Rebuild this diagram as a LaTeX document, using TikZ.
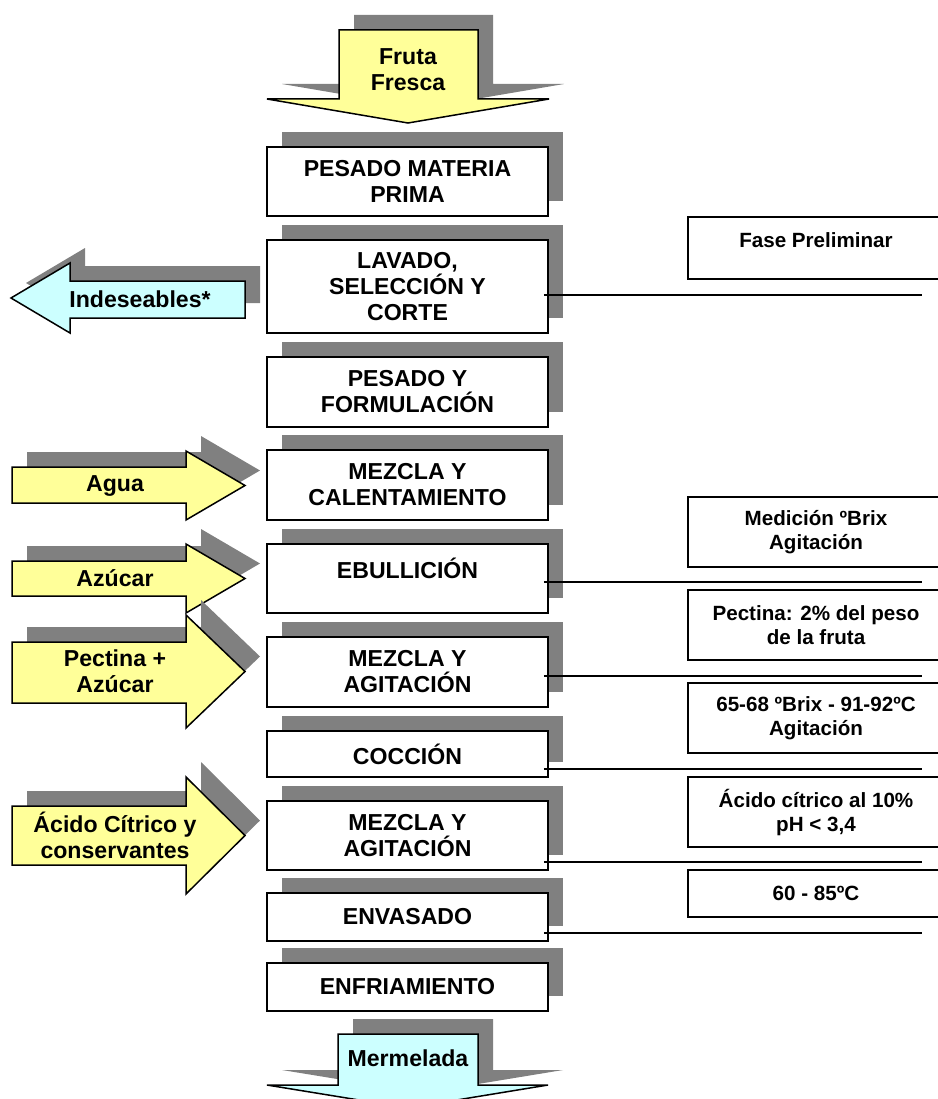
\documentclass[tikz,border=0pt]{standalone}
\usepackage{fontspec}
\setmainfont{Liberation Sans}
\definecolor{shadowgray}{HTML}{808080}
\definecolor{inyellow}{HTML}{FFFF99}
\definecolor{outcyan}{HTML}{CCFFFF}
\newcommand\stepfont{\fontsize{23.1}{26}\selectfont\bfseries}
\newcommand\notefont{\fontsize{20.6}{24}\selectfont\bfseries}
\tikzset{
  stepbox/.style={draw=black, line width=1.5pt, fill=white, align=center,
    inner sep=0pt, minimum width=281pt, font=\stepfont},
  notebox/.style={draw=black, line width=1.5pt, fill=white, align=center,
    inner sep=0pt, minimum width=256pt, font=\notefont},
  flowtext/.style={align=center, inner sep=0pt, font=\stepfont},
  arrowline/.style={draw=black, line width=1.5pt, line join=miter},
  tieline/.style={draw=black, line width=1.2pt},
}
% process step with its offset shadow: name, top, bottom, text
\newcommand\procstep[4]{%
  \fill[shadowgray] (282,#2-15) rectangle (563,#3-15);
  \pgfmathsetmacro\stepheight{#3-#2}%
  \node[stepbox, minimum height=\stepheight pt] (#1) at (407.5,{(#2+#3)/2}) {#4};
}
% note box at the right: name, top, bottom, text
\newcommand\notestep[4]{%
  \pgfmathsetmacro\noteheight{#3-#2}%
  \node[notebox, minimum height=\noteheight pt] (#1) at (816,{(#2+#3)/2}) {#4};
}
% input arrow pointing right: name, body top, body bottom, head top, head bottom, text
\newcommand\inarrow[6]{%
  \pgfmathsetmacro\tipy{(#4+#5)/2}%
  \fill[shadowgray, shift={(15,-15)}] (12,#2) -- (186,#2) -- (186,#4) -- (245,\tipy)
     -- (186,#5) -- (186,#3) -- (12,#3) -- cycle;
  \path[arrowline, fill=inyellow] (12,#2) -- (186,#2) -- (186,#4) -- (245,\tipy)
     -- (186,#5) -- (186,#3) -- (12,#3) -- cycle;
  \node[flowtext] (#1) at (115,\tipy) {#6};
}
\begin{document}
\begin{tikzpicture}[x=1pt, y=-1pt]
\useasboundingbox (0,0) rectangle (937,1099);

% raw material entering
\fill[shadowgray, shift={(15,-15)}] (339,30) -- (478,30) -- (478,99) -- (549,99)
  -- (408,123) -- (267,99) -- (339,99) -- cycle;
\path[arrowline, fill=inyellow] (339,30) -- (478,30) -- (478,99) -- (549,99)
  -- (408,123) -- (267,99) -- (339,99) -- cycle;
\node[flowtext] (fruta) at (408,70) {Fruta\\Fresca};

% process steps
\procstep{pesado}{147}{216}{PESADO MATERIA\\PRIMA}
\procstep{lavado}{240}{333}{LAVADO,\\SELECCIÓN Y\\CORTE}
\procstep{formula}{357}{427}{PESADO Y\\FORMULACIÓN}
\procstep{mezcla}{450}{520}{MEZCLA Y\\CALENTAMIENTO}
\procstep{ebull}{544}{613}{EBULLICIÓN\\[-5pt]\mbox{}}
\procstep{agita}{637}{707}{MEZCLA Y\\AGITACIÓN}
\procstep{coccion}{731}{777}{COCCIÓN}
\procstep{agitb}{801}{870}{MEZCLA Y\\AGITACIÓN}
\procstep{envasa}{893}{941}{ENVASADO}
\procstep{enfria}{963}{1011}{ENFRIAMIENTO}

% product leaving
\fill[shadowgray, shift={(15,-15)}] (338,1034) -- (478,1034) -- (478,1085) -- (548,1085)
  -- (408,1108) -- (267,1085) -- (338,1085) -- cycle;
\path[arrowline, fill=outcyan] (338,1034) -- (478,1034) -- (478,1085) -- (548,1085)
  -- (408,1108) -- (267,1085) -- (338,1085) -- cycle;
\node[flowtext] (merm) at (408,1058) {Mermelada};

% rejected material
\fill[shadowgray, shift={(15,-15)}] (245,281) -- (70,281) -- (70,263) -- (11,298)
  -- (70,333) -- (70,318) -- (245,318) -- cycle;
\path[arrowline, fill=outcyan] (245,281) -- (70,281) -- (70,263) -- (11,298)
  -- (70,333) -- (70,318) -- (245,318) -- cycle;
\node[flowtext] (indes) at (140,299) {Indeseables*};

% added ingredients
\inarrow{agua}{467}{503}{451}{520}{Agua}
\inarrow{azucar}{561}{596}{544}{613}{Azúcar}
\inarrow{pectina}{642}{703}{615}{728}{Pectina +\\Azúcar}
\inarrow{acido}{806}{865}{777}{894}{Ácido Cítrico y\\conservantes}

% notes on the right
\notestep{fase}{217}{279}{Fase Preliminar\\[-8pt]\mbox{}}
\notestep{brix}{497}{567}{Medición ºBrix\\Agitación}
\notestep{pect}{590}{660}{Pectina: 2\% del peso\\de la fruta}
\notestep{temp}{683}{753}{65-68 ºBrix - 91-92ºC\\Agitación}
\notestep{ph}{777}{847}{Ácido cítrico al 10\%\\pH < 3,4}
\notestep{env}{870}{917}{60 - 85ºC}

% rules from the steps towards the notes
\coordinate (r1) at (922,295);
\coordinate (r2) at (922,582);
\coordinate (r3) at (922,676);
\coordinate (r4) at (922,769);
\coordinate (r5) at (922,862);
\coordinate (r6) at (922,933);
\draw[tieline] ([xshift=-5pt]lavado.east |- r1) -- (r1);
\draw[tieline] ([xshift=-5pt]ebull.east |- r2) -- (r2);
\draw[tieline] ([xshift=-5pt]agita.east |- r3) -- (r3);
\draw[tieline] ([xshift=-5pt]coccion.east |- r4) -- (r4);
\draw[tieline] ([xshift=-5pt]agitb.east |- r5) -- (r5);
\draw[tieline] ([xshift=-5pt]envasa.east |- r6) -- (r6);
\end{tikzpicture}
\end{document}
